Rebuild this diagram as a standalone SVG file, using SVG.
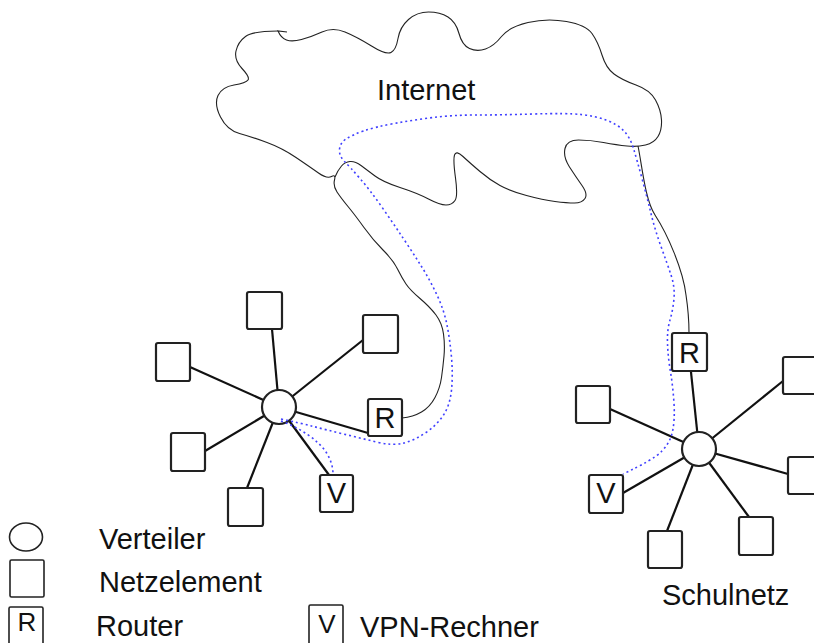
<svg xmlns="http://www.w3.org/2000/svg" width="814" height="643" viewBox="0 0 814 643">
<style>
.cloud{fill:none;stroke:#222;stroke-width:1.1}
.edge{stroke:#111;stroke-width:2.2;fill:none}
.box{fill:#fff;stroke:#222;stroke-width:2.2}
.hub{fill:#fff;stroke:#222;stroke-width:2.2}
.vpn{fill:none;stroke:#4040ff;stroke-width:1.6;stroke-dasharray:2 3}
.lg{fill:#fff;stroke:#222;stroke-width:1.6}
text{font-family:"Liberation Sans",Arial,sans-serif;fill:#111}
.t{font-size:29px}
.bl{font-size:29px;text-anchor:middle}
.ll{font-size:26px;text-anchor:middle}
</style>
<rect width="814" height="643" fill="#fff"/>
<g id="internet">
<path class="cloud" d="M278,31 Q253,31 245.5,36.5 Q238,42 236,51 Q234,60 242,68.5 Q250,77 248,80 Q246,83 234,85 Q222,87 218,95.5 Q214,104 220.5,117 Q227,130 239.5,133.5 Q252,137 267,142.5 Q282,148 296,157.5 Q310,167 318.5,173 Q327,179 331.5,176.5 Q336,174 334.5,180 Q333,186 337,192 Q341,198 348,206.5 Q355,215 364,227.5 Q373,240 383,250 Q393,260 397.5,269 Q402,278 406,284 Q410,290 420,298.5 Q430,307 436,315 Q442,323 443.5,334 Q445,345 444,356 Q443,367 441.5,377.5 Q440,388 435,397.5 Q430,407 421.5,412 Q413,417 402,418"/>
<path class="cloud" d="M287,32 L278,31 Q281,38 286.5,40 Q292,42 301.5,39.5 Q311,37 322,32 Q333,27 345,32 Q357,37 371.5,46 Q386,55 391,52.5 Q396,50 398,38.5 Q400,27 408.5,19.5 Q417,12 428.5,12 Q440,12 448,17 Q456,22 459,33.5 Q462,45 469.5,48.5 Q477,52 485.5,49 Q494,46 501.5,36.5 Q509,27 528,22.5 Q547,18 566.5,21.5 Q586,25 592,33.5 Q598,42 602,55 Q606,68 614,74 Q622,80 636,85 Q650,90 655.5,100 Q661,110 661.5,120 Q662,130 658,136.5 Q654,143 645.5,145 Q637,147 627,146 Q617,145 603.5,142.5 Q590,140 578.5,140 Q567,140 565,148.5 Q563,157 569.5,167 Q576,177 582,185.5 Q588,194 585,198.5 Q582,203 574.5,203 Q567,203 555,201.5 Q543,200 526.5,195.5 Q510,191 500,185.5 Q490,180 480,171.5 Q470,163 463,156.5 Q456,150 454.5,155 Q453,160 455.5,178 Q458,196 455,200.5 Q452,205 446,205 Q440,205 428.5,199 Q417,193 400,187.5 Q383,182 375,176 Q367,170 361,165.5 Q355,161 350,161.5 Q345,162 341.5,166 Q338,170 335,177"/>
<path class="cloud" d="M638,146 C642,165 645,200 655,215 C668,235 683,270 686,295 C689,315 689,325 689,333"/>
<text x="377" y="100" class="t">Internet</text>
</g>
<g id="connectors">
<line class="edge" x1="279" y1="407" x2="272" y2="329"/>
<line class="edge" x1="279" y1="407" x2="363" y2="340"/>
<line class="edge" x1="279" y1="407" x2="190" y2="367"/>
<line class="edge" x1="279" y1="407" x2="368" y2="433"/>
<line class="edge" x1="279" y1="407" x2="205" y2="451"/>
<line class="edge" x1="279" y1="407" x2="247" y2="488"/>
<line class="edge" x1="279" y1="407" x2="329" y2="475"/>
<line class="edge" x1="699" y1="449" x2="691" y2="372"/>
<line class="edge" x1="699" y1="449" x2="783" y2="381"/>
<line class="edge" x1="699" y1="449" x2="610" y2="409"/>
<line class="edge" x1="699" y1="449" x2="788" y2="474"/>
<line class="edge" x1="699" y1="449" x2="623" y2="493"/>
<line class="edge" x1="699" y1="449" x2="667" y2="531"/>
<line class="edge" x1="699" y1="449" x2="749" y2="517"/>
</g>
<g id="left-hub"><circle class="hub" cx="279" cy="407" r="17"/></g>
<g id="left-n1"><rect class="box" x="247" y="292" width="35" height="37" rx="2"/></g>
<g id="left-n2"><rect class="box" x="363" y="315" width="35" height="38" rx="2"/></g>
<g id="left-n3"><rect class="box" x="156" y="343" width="34" height="38" rx="2"/></g>
<g id="left-router"><rect class="box" x="368" y="399" width="34" height="37" rx="2"/><text x="385" y="428" class="bl">R</text></g>
<g id="left-n4"><rect class="box" x="171" y="433" width="34" height="38" rx="2"/></g>
<g id="left-n5"><rect class="box" x="228" y="488" width="35" height="38" rx="2"/></g>
<g id="left-vpn"><rect class="box" x="320" y="475" width="33" height="37" rx="2"/><text x="336.5" y="503" class="bl">V</text></g>
<g id="right-hub"><circle class="hub" cx="699" cy="449" r="17"/></g>
<g id="right-router"><rect class="box" x="672" y="333" width="35" height="38" rx="2"/><text x="689.5" y="363" class="bl">R</text></g>
<g id="right-n1"><rect class="box" x="783" y="357" width="40" height="37" rx="2"/></g>
<g id="right-n2"><rect class="box" x="576" y="386" width="34" height="37" rx="2"/></g>
<g id="right-n3"><rect class="box" x="788" y="457" width="40" height="37" rx="2"/></g>
<g id="right-vpn"><rect class="box" x="589" y="475" width="34" height="38" rx="2"/><text x="606" y="503" class="bl">V</text></g>
<g id="right-n4"><rect class="box" x="648" y="531" width="34" height="37" rx="2"/></g>
<g id="right-n5"><rect class="box" x="739" y="517" width="34" height="38" rx="2"/></g>
<g id="vpn-tunnel">
<path class="vpn" d="M281,419 Q300,423 313.5,426.5 Q327,430 343.5,434 Q360,438 376.5,442 Q393,446 404,443 Q415,440 426,432.5 Q437,425 443.5,415 Q450,405 451.5,390 Q453,375 451.5,357.5 Q450,340 447,325 Q444,310 437,295 Q430,280 421.5,266.5 Q413,253 403,238 Q393,223 381.5,206.5 Q370,190 360,178.5 Q350,167 344.5,161.5 Q339,156 339.5,149.5 Q340,143 346,139 Q352,135 363.5,131 Q375,127 394,123.5 Q413,120 433,117.5 Q453,115 476.5,115 Q500,115 533.5,114 Q567,113 581,114.5 Q595,116 606,120 Q617,124 623.5,130.5 Q630,137 633.5,148.5 Q637,160 642,178.5 Q647,197 651,213.5 Q655,230 661,246.5 Q667,263 671,275 Q675,287 674,298.5 Q673,310 670,320 Q667,330 667.5,343.5 Q668,357 670.5,372 Q673,387 674,403.5 Q675,420 672.5,431.5 Q670,443 661.5,451.5 Q653,460 623,474"/>
<path class="vpn" d="M281,421 C300,428 318,440 326,452 C331,460 333,467 333,474"/>
</g>
<text x="662" y="605" class="t">Schulnetz</text>
<g id="legend">
<ellipse class="lg" cx="26" cy="537" rx="16.5" ry="14"/>
<text x="99" y="549" class="t">Verteiler</text>
<rect class="lg" x="10" y="560" width="34" height="37" rx="1.5"/>
<text x="99" y="592" class="t">Netzelement</text>
<rect class="lg" x="9" y="607" width="34" height="40" rx="1.5"/>
<text x="27" y="631" class="ll">R</text>
<text x="96" y="636" class="t">Router</text>
<rect class="lg" x="309" y="605" width="34" height="42" rx="1.5"/>
<text x="327" y="633" class="ll">V</text>
<text x="360" y="637" class="t">VPN-Rechner</text>
</g>
</svg>
